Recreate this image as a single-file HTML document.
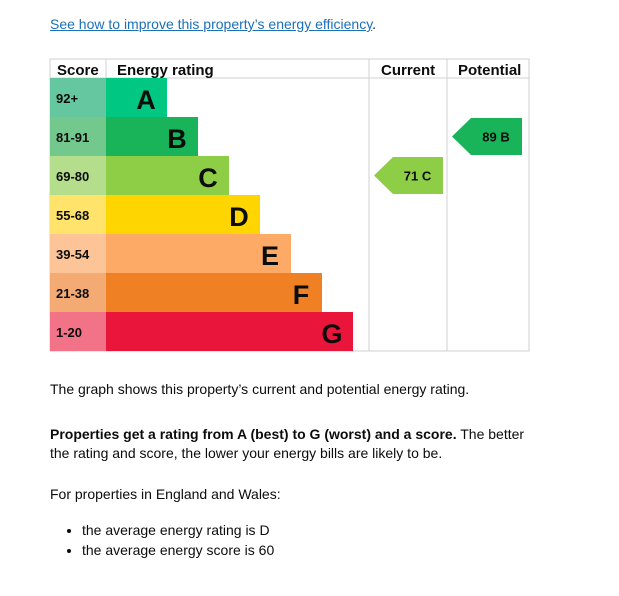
<!DOCTYPE html>
<html><head><meta charset="utf-8"><style>
body{margin:0;width:619px;height:596px;background:#fff;font-family:"Liberation Sans",sans-serif;color:#0b0c0c;position:relative;overflow:hidden}
.t{position:absolute;left:50px;font-size:14px;margin:0;white-space:nowrap}
a{color:#1d70b8;text-decoration:underline}
ul{position:absolute;left:62px;top:520px;margin:0;padding:0 0 0 20px;font-size:14px;line-height:20px}
</style></head><body>
<p class="t" style="top:16px"><a href="#">See how to improve this property’s energy efficiency</a>.</p>
<svg id="c" width="619" height="360" style="position:absolute;left:0;top:0" font-family="Liberation Sans, sans-serif"></svg>
<p class="t" style="top:381px">The graph shows this property’s current and potential energy rating.</p>
<p class="t" style="top:425px;line-height:19px"><b>Properties get a rating from A (best) to G (worst) and a score.</b> The better<br>the rating and score, the lower your energy bills are likely to be.</p>
<p class="t" style="top:486px">For properties in England and Wales:</p>
<ul><li>the average energy rating is D</li><li>the average energy score is 60</li></ul>
<script>
const bands=['A','B','C','D','E','F','G'];
const scoreLabels=['92+','81-91','69-80','55-68','39-54','21-38','1-20'];
const bandMin=[92,81,69,55,39,21,1];
const bandColors=['#00c781','#19b459','#8dce46','#ffd500','#fcaa65','#ef8023','#e9153b'];
const scoreColors=['#64c7a0','#72c88d','#b4de8b','#ffe36a','#fdc497','#f3ab73','#f27387'];
const currentScore=71, potentialScore=89;
const svg=document.getElementById('c');const NS='http://www.w3.org/2000/svg';
function mk(t,a,txt){const e=document.createElementNS(NS,t);for(const k in a)e.setAttribute(k,a[k]);if(txt!=null)e.textContent=txt;svg.appendChild(e);return e;}
const top0=78,rowH=39,x0=50,sx=106,barW0=61,step=31,cx=369,px=447,right=529,bottom=351;
const rowY=i=>top0+i*rowH;
const bandOf=s=>bandMin.findIndex(m=>s>=m);
let g=mk('rect',{x:x0,y:59,width:right-x0,height:bottom-59,fill:'none',stroke:'#d0d0d0'});

[[cx],[px]].forEach(([x])=>{const l=mk('line',{x1:x,y1:59,x2:x,y2:bottom,stroke:'#d0d0d0'});});
let l=mk('line',{x1:x0,y1:78,x2:right,y2:78,stroke:'#d0d0d0'});
l=mk('line',{x1:sx,y1:59,x2:sx,y2:78,stroke:'#d0d0d0'});
[['Score',57],['Energy rating',117],['Current',381],['Potential',458]].forEach(([t,x])=>{const e=mk('text',{x:x,y:75,'font-size':15,'font-weight':'bold',fill:'#0b0c0c'},t);});
bands.forEach((b,i)=>{const y=rowY(i);
 let r=mk('rect',{x:x0,y:y,width:sx-x0,height:rowH,fill:scoreColors[i]});
 let t=mk('text',{x:56,y:y+25,'font-size':13,'font-weight':'bold',fill:'#0b0c0c'},scoreLabels[i]);
 const w=barW0+i*step;
 r=mk('rect',{x:sx,y:y,width:w,height:rowH,fill:bandColors[i]});
 t=mk('text',{x:sx+w-21,y:y+31,'font-size':27,'font-weight':'bold','text-anchor':'middle',fill:'#0b0c0c'},b);
});
function arrow(score,x1,x2,name){const i=bandOf(score);const y=rowY(i)+1,h=rowH-2;
 const p=mk('polygon',{points:`${x1},${y+h/2} ${x1+19},${y} ${x2},${y} ${x2},${y+h} ${x1+19},${y+h}`,fill:bandColors[i]});
 const t=mk('text',{x:(x1+x2)/2+9,y:y+h/2+5,'font-size':13,'font-weight':'bold','text-anchor':'middle',fill:'#0b0c0c','xml:space':'preserve'},score+'  '+bands[i]);}
arrow(currentScore,374,443,'current');
arrow(potentialScore,452,522,'potential');
</script>
</body></html>
